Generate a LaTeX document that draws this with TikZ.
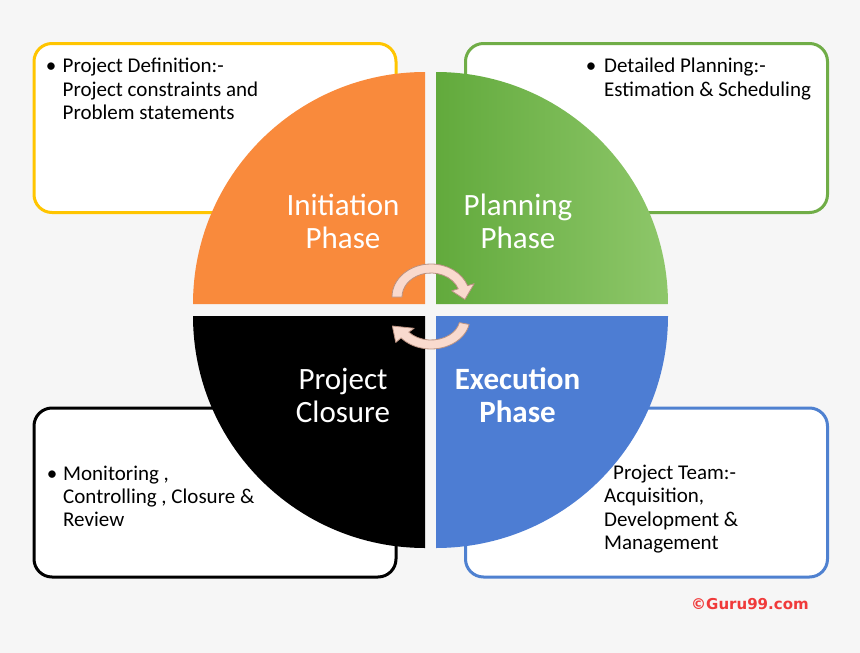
\documentclass[tikz,border=0pt]{standalone}
\usepackage{fontspec}
\setmainfont{Carlito}
\newfontfamily\logofont{DejaVu Sans}
\usetikzlibrary{calc}
\definecolor{bgc}{RGB}{246,246,246}
\definecolor{ylw}{RGB}{255,197,0}
\definecolor{grnb}{RGB}{112,173,71}
\definecolor{blub}{RGB}{79,129,208}
\definecolor{orq}{RGB}{249,138,60}
\definecolor{grL}{RGB}{98,170,60}
\definecolor{grR}{RGB}{142,199,106}
\definecolor{blq}{RGB}{77,125,211}
\definecolor{arrf}{RGB}{249,218,206}
\definecolor{arrd}{RGB}{186,146,130}
\definecolor{logoc}{RGB}{240,58,58}
\begin{document}
\begin{tikzpicture}[x=1pt,y=1pt,yscale=-1,
  boxs/.style={line width=3pt, rounded corners=18pt, fill=white, minimum width=362pt, minimum height=169pt, inner sep=0pt},
  txt/.style={font=\fontsize{21}{23}\selectfont, anchor=base west, inner sep=0pt},
  bul/.style={font=\fontsize{21}{23}\selectfont, anchor=base, inner sep=0pt},
  ph/.style={font=\fontsize{31}{33}\selectfont, text=white, anchor=base, inner sep=0pt},
  arrs/.style={fill=arrf, draw=arrd, line width=0.8pt, line join=round}]
\useasboundingbox (0,0) rectangle (860,653);
\fill[bgc] (0,0) rectangle (860,653);
% boxes
\node[boxs, draw=ylw] (boxTL) at (215,128) {};
\node[boxs, draw=grnb] (boxTR) at (646.5,128) {};
\node[boxs, draw=black] (boxBL) at (215,492.5) {};
\node[boxs, draw=blub] (boxBR) at (646.5,492.5) {};
% quadrants
\fill[orq] (425,304) -- (193,304) arc[start angle=180,end angle=270,radius=232] -- cycle;
\shade[left color=grL, right color=grR] (436,304) -- (436,72) arc[start angle=270,end angle=360,radius=232] -- cycle;
\fill[blq] (436,316) -- (668,316) arc[start angle=0,end angle=90,radius=232] -- cycle;
\fill[black] (425,316) -- (425,548) arc[start angle=90,end angle=180,radius=232] -- cycle;
% box texts
\node[bul] (bTL) at (51,72.7) {\textbullet};
\node[txt] (tl1) at (62.5,72.7) {Project Definition:-};
\node[txt] (tl2) at (62.5,96) {Project constraints and};
\node[txt] (tl3) at (62.5,119.3) {Problem statements};
\node[bul] (bTR) at (591,72.5) {\textbullet};
\node[txt] (tr1) at (604,72.5) {Detailed Planning:-};
\node[txt] (tr2) at (604,96.5) {Estimation \& Scheduling};
\node[bul] (bBL) at (52,480) {\textbullet};
\node[txt] (bl1) at (63,480) {Monitoring ,};
\node[txt] (bl2) at (63,503.3) {Controlling , Closure \&};
\node[txt] (bl3) at (63,526.7) {Review};
\node[txt] (br1) at (613,479.3) {Project Team:-};
\node[txt] (br2) at (604,502.7) {Acquisition,};
\node[txt] (br3) at (604,526) {Development \&};
\node[txt] (br4) at (604,549.3) {Management};
% phase labels
\node[ph] (ini1) at (343,215) {Initiation};
\node[ph] (ini2) at (343,248.3) {Phase};
\node[ph] (pla1) at (518,215) {Planning};
\node[ph] (pla2) at (518,248.3) {Phase};
\node[ph] (clo1) at (343,389.3) {Project};
\node[ph] (clo2) at (343,422.7) {Closure};
\node[ph, font=\fontsize{31}{33}\selectfont\bfseries] (exe1) at (517.5,389.3) {Execution};
\node[ph, font=\fontsize{31}{33}\selectfont\bfseries] (exe2) at (517.5,422.7) {Phase};
% cycle arrows
\coordinate (ct) at (431,297);
\coordinate (cb) at (431,318);
\path[arrs] ($(ct)+(180:39 and 33)$) arc[start angle=180,end angle=340,x radius=39,y radius=33]
  -- ($(ct)+(340:46 and 39)$) -- ($(ct)+(5:34 and 28.5)$) -- ($(ct)+(340:22 and 18)$)
  -- ($(ct)+(340:29 and 24)$) arc[start angle=340,end angle=180,x radius=29,y radius=24] -- cycle;
\path[arrs] ($(cb)+(12:39 and 31)$) arc[start angle=12,end angle=140,x radius=39,y radius=31]
  -- ($(cb)+(140:46 and 38)$) -- ($(cb)+(165:40 and 31)$) -- ($(cb)+(140:22 and 16)$)
  -- ($(cb)+(140:29 and 22)$) arc[start angle=140,end angle=12,x radius=29,y radius=22] -- cycle;
% logo
\node[anchor=base west, inner sep=0pt, text=logoc, font=\logofont\bfseries\fontsize{15}{17}\selectfont] (logo) at (691,609.3) {©Guru99.com};
\end{tikzpicture}
\end{document}
